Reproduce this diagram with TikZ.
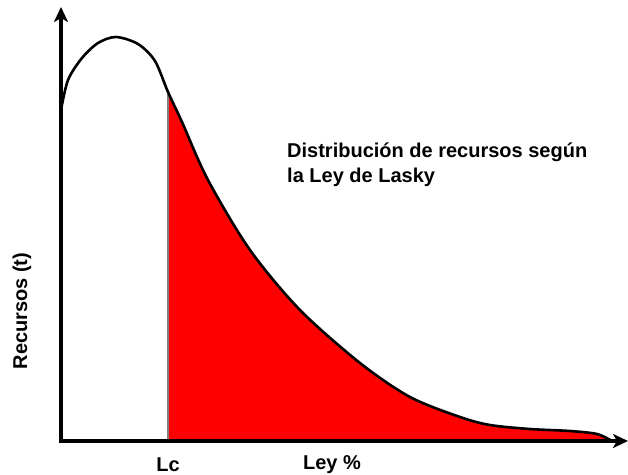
\documentclass[tikz,border=0pt]{standalone}
\usepackage{fontspec}
\setmainfont{Liberation Sans}
\usepackage{tikz}
\usetikzlibrary{arrows.meta}

\begin{document}
\begin{tikzpicture}[x=1pt,y=-1pt,
	axis/.style={line width=3.5pt,{Stealth[length=15pt,width=14pt,inset=4pt]}-{Stealth[length=15pt,width=14pt,inset=4pt]}},
	curve/.style={line width=2.6pt,line join=round},
	label/.style={font=\fontsize{20}{25}\selectfont\bfseries,inner sep=0pt}]
	
	\definecolor{lcgray}{RGB}{128,128,128}
	\definecolor{lasky}{RGB}{255,0,0}
	
	\useasboundingbox (0,0) rectangle (628,474);
	
	\coordinate (O) at (61,441);
	\coordinate (ytip) at (61,7);
	\coordinate (xtip) at (628,441);
	\coordinate (lctop) at (168,92);
	\coordinate (lcbot) at (168,441);
	
	% area above the cut-off grade
	\fill[lasky] (lcbot) -- (lctop) -- plot[smooth,tension=0.5] coordinates {(168,92) (182,122) (208,180) (250,250) (300,310) (360,363) (410,397) (460,417) (490,425) (530,429) (570,431) (597,434) (612,441)} -- cycle;
	\draw[lcgray,line width=2.2pt] (lcbot) -- (lctop);
	
	\draw[curve] plot[smooth,tension=0.5] coordinates {(61,110) (68,80) (82,58) (98,43) (116,37) (138,44) (155,61) (168,92) (182,122) (208,180) (250,250) (300,310) (360,363) (410,397) (460,417) (490,425) (530,429) (570,431) (597,434) (612,441)};
	
	\draw[axis] (ytip) -- (O) -- (xtip);
	
	\node[label,rotate=90] (recursos) at (22,311) {Recursos (t)};
	\node[label,anchor=base] (lc) at (168,471) {Lc};
	\node[label,anchor=base] (ley) at (332,469) {Ley \%};
	\node[label,anchor=north west,align=left] (titulo) at (287,143) {Distribución de recursos según\\la Ley de Lasky};
\end{tikzpicture}
\end{document}
